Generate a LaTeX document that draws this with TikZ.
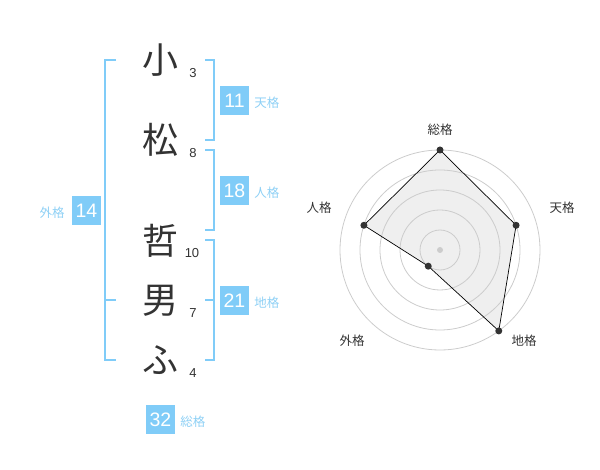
\documentclass[tikz,border=0pt]{standalone}
\usepackage{fontspec}
\setmainfont{Liberation Sans}
\newfontfamily\jpfont{Noto Sans CJK JP}
\usetikzlibrary{positioning}
\definecolor{skyBlue}{HTML}{80CCF8}
\definecolor{labelBlue}{HTML}{8ED0F5}
\definecolor{inkGray}{HTML}{333333}
\definecolor{ringGray}{HTML}{CCCCCC}
\definecolor{areaGray}{HTML}{EFEFEF}
\tikzset{charStyle/.style={inner sep=0pt, text=inkGray, font=\jpfont\fontsize{36}{36}\selectfont}}
\tikzset{strokeStyle/.style={inner sep=0pt, text=inkGray, font=\fontsize{13}{13}\selectfont}}
\tikzset{boxStyle/.style={rectangle, fill=skyBlue, text=white, inner sep=0pt, minimum size=29pt, font=\fontsize{19.5}{19.5}\selectfont}}
\tikzset{kakuStyle/.style={inner sep=0pt, text=labelBlue, font=\jpfont\fontsize{12.5}{12.5}\selectfont}}
\tikzset{bracketStyle/.style={draw=skyBlue, line width=2pt}}
\tikzset{axisStyle/.style={inner sep=0pt, text=inkGray, font=\jpfont\fontsize{12.5}{12.5}\selectfont}}
\tikzset{dotStyle/.style={circle, fill=inkGray, inner sep=0pt, minimum size=7pt}}
\tikzset{ringStyle/.style={draw=ringGray, line width=0.8pt}, areaStyle/.style={fill=areaGray}, edgeStyle/.style={draw=black, line width=0.7pt}}

\begin{document}
\begin{tikzpicture}[x=1pt, y=-1pt]
  \useasboundingbox (0,0) rectangle (600,470);

  % name characters
  \node at (160,60) [charStyle] (ko){小};
  \node at (160,140) [charStyle] (matsu){松};
  \node at (160,241) [charStyle] (tetsu){哲};
  \node at (160,301) [charStyle] (o){男};
  \node at (160,360) [charStyle] (fu){ふ};

  % stroke counts
  \node at (193,73) [strokeStyle] (n3){3};
  \node at (193,153) [strokeStyle] (n8){8};
  \node at (192,253) [strokeStyle] (n10){10};
  \node at (193,313) [strokeStyle] (n7){7};
  \node at (193,373) [strokeStyle] (n4){4};

  % brackets
  \draw [bracketStyle] (116,60) -- (105,60) -- (105,360) -- (116,360);
  \draw [bracketStyle] (105,300) -- (116,300);
  \draw [bracketStyle] (205,60) -- (214,60) -- (214,140) -- (205,140);
  \draw [bracketStyle] (205,150) -- (214,150) -- (214,230) -- (205,230);
  \draw [bracketStyle] (205,240) -- (214,240) -- (214,360) -- (205,360);
  \draw [bracketStyle] (205,300) -- (214,300);

  % totals
  \node at (234.5,100.5) [boxStyle] (ten){11};
  \node [kakuStyle] (tenLabel) [right=5pt of ten, yshift=-2pt]{天格};
  \node at (234.5,190.5) [boxStyle] (jin){18};
  \node [kakuStyle] (jinLabel) [right=5pt of jin, yshift=-2pt]{人格};
  \node at (86.5,210.5) [boxStyle] (gai){14};
  \node [kakuStyle] (gaiLabel) [left=7pt of gai, yshift=-2pt]{外格};
  \node at (234.5,300.5) [boxStyle] (chi){21};
  \node [kakuStyle] (chiLabel) [right=5pt of chi, yshift=-2pt]{地格};
  \node at (160.5,419.5) [boxStyle] (sou){32};
  \node [kakuStyle] (souLabel) [right=5pt of sou, yshift=-2pt]{総格};

  % radar chart
  \begin{scope}[shift={(440,250)}, y=1pt]
    \coordinate (pSou) at (90:100);
    \coordinate (pTen) at (18:80);
    \coordinate (pChi) at (-54:100);
    \coordinate (pGai) at (-126:20);
    \coordinate (pJin) at (162:80);
    \fill [areaStyle] (pSou) -- (pTen) -- (pChi) -- (pGai) -- (pJin) -- cycle;

    \foreach \r in {20,40,...,100}
      \draw [ringStyle] (0,0) circle [radius=\r pt];
    \node [circle, fill=ringGray, inner sep=0pt, minimum size=6pt] (hub) at (0,0){};

    \draw [edgeStyle] (pSou) -- (pTen) -- (pChi) -- (pGai) -- (pJin) -- cycle;
    \foreach \p in {pSou,pTen,pChi,pGai,pJin}
      \node [dotStyle] at (\p){};

    \node at (0,120) [axisStyle] (aSou){総格};
    \node at (122,42) [axisStyle] (aTen){天格};
    \node at (84,-91) [axisStyle] (aChi){地格};
    \node at (-88,-91) [axisStyle] (aGai){外格};
    \node at (-121,42) [axisStyle] (aJin){人格};
  \end{scope}
\end{tikzpicture}
\end{document}
